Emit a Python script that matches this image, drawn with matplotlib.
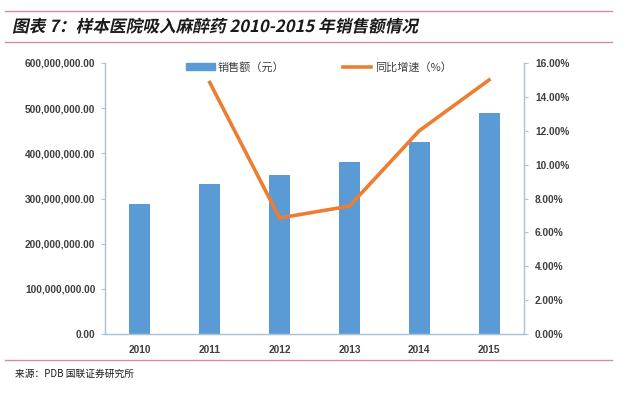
import matplotlib
matplotlib.use("Agg")
import matplotlib.pyplot as plt
from matplotlib.patheffects import AbstractPathEffect
from matplotlib.transforms import Affine2D
from matplotlib.lines import Line2D
from matplotlib.patches import Patch
from matplotlib.ticker import FuncFormatter

plt.rcParams['font.family'] = ['Noto Sans CJK SC', 'DejaVu Sans']

years = ['2010', '2011', '2012', '2013', '2014', '2015']
sales = [288e6, 331e6, 353e6, 380e6, 425e6, 490e6]
growth_years = ['2011', '2012', '2013', '2014', '2015']
growth = [14.85, 6.85, 7.55, 12.0, 15.0]

title = '图表 7：样本医院吸入麻醉药 2010-2015 年销售额情况'
source = '来源：PDB 国联证券研究所'
bar_label = '销售额（元）'
line_label = '同比增速（%）'


class Skew(AbstractPathEffect):
    def __init__(self, deg):
        super().__init__()
        self.deg = deg

    def draw_path(self, renderer, gc, tpath, affine, rgbFace=None):
        renderer.draw_path(gc, tpath, Affine2D().skew_deg(self.deg, 0) + affine, rgbFace)


fig = plt.figure(figsize=(6.4, 3.93), dpi=100)
ax = fig.add_axes([105 / 640, 1 - 334 / 393, 419 / 640, 271 / 393])
ax2 = ax.twinx()

x = list(range(len(years)))
ax.bar(x, sales, width=0.3, color='#5B9BD5', zorder=2)
gx = [years.index(y) for y in growth_years]
ax2.plot(gx, growth, color='#ED7D31', lw=2.6, solid_joinstyle='miter', zorder=3)

ax.set_xlim(-0.5, len(years) - 0.5)
ax.set_ylim(0, 600e6)
ax.set_yticks([i * 100e6 for i in range(7)])
ax.yaxis.set_major_formatter(FuncFormatter(lambda v, p: f'{v:,.2f}'))
ax2.set_ylim(0, 16)
ax2.set_yticks(range(0, 17, 2))
ax2.yaxis.set_major_formatter(FuncFormatter(lambda v, p: f'{v:.2f}%'))
ax.set_xticks(x)
ax.set_xticklabels(years)

spine_c = '#A9C4D6'
for a in (ax, ax2):
    a.spines['top'].set_visible(False)
    for s in ('left', 'right', 'bottom'):
        a.spines[s].set_color(spine_c)
        a.spines[s].set_linewidth(0.9)
lab_c = '#3f3f3f'
ax.tick_params(axis='y', length=3, color=spine_c, labelsize=7.3, labelcolor=lab_c, pad=4)
ax2.tick_params(axis='y', length=3, color=spine_c, labelsize=7.3, labelcolor=lab_c, pad=5)
ax.tick_params(axis='x', length=0, labelsize=7.3, labelcolor=lab_c, pad=8)
for lab in ax.get_yticklabels() + ax2.get_yticklabels() + ax.get_xticklabels():
    lab.set_fontweight('bold')
    lab.set_family(['Liberation Sans', 'DejaVu Sans'])

handles = [Patch(color='#5B9BD5'), Line2D([0], [0], color='#ED7D31', lw=2.6)]
leg = ax.legend(handles, [bar_label, line_label], loc='center',
                bbox_to_anchor=(0.51, 0.985), ncol=2, frameon=False,
                fontsize=8, handlelength=2.6, handleheight=0.5,
                columnspacing=5.2, handletextpad=0.3)
for t in leg.get_texts():
    t.set_color(lab_c)

line_c = '#D98A9A'
for yy in (11, 42, 360):
    fig.add_artist(Line2D([5 / 640, 612 / 640], [1 - yy / 393, 1 - yy / 393], color=line_c, lw=1.0))

fig.text(12 / 640, 1 - 27 / 393, title, fontsize=12, fontweight='bold', color='#1a1a1a',
         va='center', ha='left', path_effects=[Skew(12)])
fig.text(15 / 640, 1 - 374 / 393, source, fontsize=7, color='#1a1a1a', va='center', ha='left')

fig.savefig('out.png', dpi=100)
